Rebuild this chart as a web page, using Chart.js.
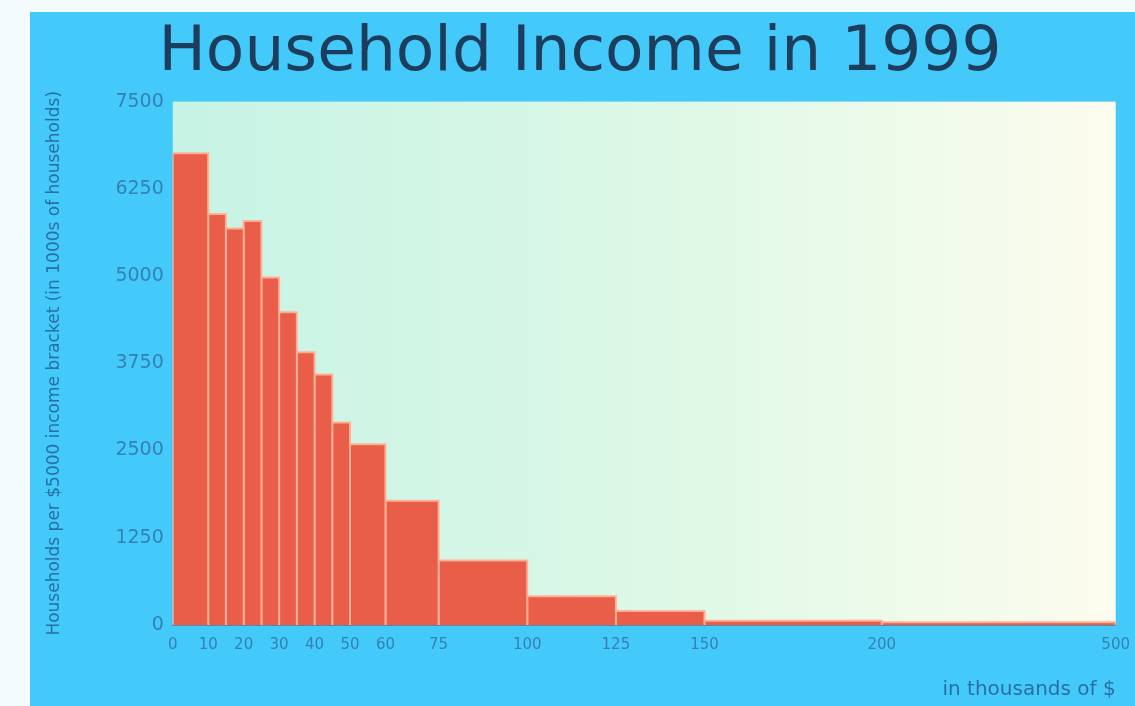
<!DOCTYPE html>
<html>
<head>
<meta charset="utf-8">
<script src="https://cdn.jsdelivr.net/npm/chart.js@4.4.0/dist/chart.umd.min.js"></script>
<style>
  html, body { margin: 0; padding: 0; background: #f4fbfe; }
  #wrap {
    position: absolute; left: 30px; top: 12px;
    width: 1105px; height: 694px;
    background: #43c9fa;
  }
</style>
</head>
<body>
<div id="wrap"><canvas id="incomeChart"></canvas></div>
<script>
// Income brackets (thousands of $): bin edges, last bin is the open "200 and over" one
const binEdges = [0, 10, 15, 20, 25, 30, 35, 40, 45, 50, 60, 75, 100, 125, 150, 200, 266];
// Households per $5000 of bracket width (1000s)
const households = [6760, 5890, 5680, 5790, 4980, 4480, 3910, 3590, 2900, 2590, 1780, 925, 413, 199, 60, 40];

const xTicks = [0, 10, 20, 30, 40, 50, 60, 75, 100, 125, 150, 200, 266];
const xTickLabels = ['0', '10', '20', '30', '40', '50', '60', '75', '100', '125', '150', '200', '500'];
const yTicks = [0, 1250, 2500, 3750, 5000, 6250, 7500];

// one filled outline per bracket so every bar keeps its own width
const datasets = households.map((v, i) => ({
  data: [
    { x: binEdges[i], y: 0 },
    { x: binEdges[i], y: v },
    { x: binEdges[i + 1], y: v },
    { x: binEdges[i + 1], y: 0 }
  ],
  showLine: true,
  fill: 'origin',
  backgroundColor: '#e95e49',
  borderColor: 'rgba(255, 175, 150, 0.95)',
  borderWidth: 2,
  pointRadius: 0,
  tension: 0
}));

// gradient behind the plot area
const plotBackground = {
  id: 'plotBackground',
  beforeDatasetsDraw(chart) {
    const { ctx, chartArea: a } = chart;
    const g = ctx.createLinearGradient(a.left, 0, a.right, 0);
    g.addColorStop(0, '#c6f3e5');
    g.addColorStop(0.5, '#dcf8e6');
    g.addColorStop(1, '#fdfcee');
    ctx.save();
    ctx.fillStyle = g;
    ctx.fillRect(a.left, a.top, a.right - a.left, a.bottom - a.top);
    ctx.restore();
  }
};

const tickColor = '#3580b5';

new Chart(document.getElementById('incomeChart'), {
  type: 'scatter',
  data: { datasets },
  options: {
    responsive: true,
    maintainAspectRatio: false,
    animation: false,
    layout: { padding: { left: 10, right: 15, top: 0, bottom: 4 } },
    plugins: {
      legend: { display: false },
      tooltip: { enabled: false },
      title: {
        display: true,
        text: 'Household Income in 1999',
        color: '#1c3d5c',
        font: { family: 'DejaVu Sans', size: 63, weight: 'normal' },
        padding: { top: 4, bottom: 10 }
      }
    },
    scales: {
      x: {
        type: 'linear',
        min: 0,
        max: binEdges[binEdges.length - 1],
        afterBuildTicks: axis => { axis.ticks = xTicks.map(v => ({ value: v })); },
        grid: { display: false, drawTicks: true, tickLength: 6, tickColor: tickColor },
        border: { display: true, color: '#5a86a8', width: 2 },
        ticks: {
          autoSkip: false,
          maxRotation: 0,
          padding: 5,
          color: tickColor,
          font: { family: 'DejaVu Sans', size: 15 },
          callback: (val, i) => xTickLabels[i]
        },
        title: {
          display: true,
          text: 'in thousands of $',
          align: 'end',
          color: '#2a6fa3',
          font: { family: 'DejaVu Sans', size: 20 },
          padding: { top: 19, bottom: 0 }
        }
      },
      y: {
        min: 0,
        max: 7500,
        afterBuildTicks: axis => { axis.ticks = yTicks.map(v => ({ value: v })); },
        grid: { display: false, drawTicks: true, tickLength: 6, tickColor: tickColor },
        border: { display: false },
        ticks: {
          padding: 3,
          color: tickColor,
          font: { family: 'DejaVu Sans', size: 19 },
          callback: val => String(val)
        },
        title: {
          display: true,
          text: 'Households per $5000 income bracket (in 1000s of households)',
          color: '#2a6fa3',
          font: { family: 'DejaVu Sans', size: 17 },
          padding: { top: 4, bottom: 48 }
        }
      }
    }
  },
  plugins: [plotBackground]
});
</script>
</body>
</html>
